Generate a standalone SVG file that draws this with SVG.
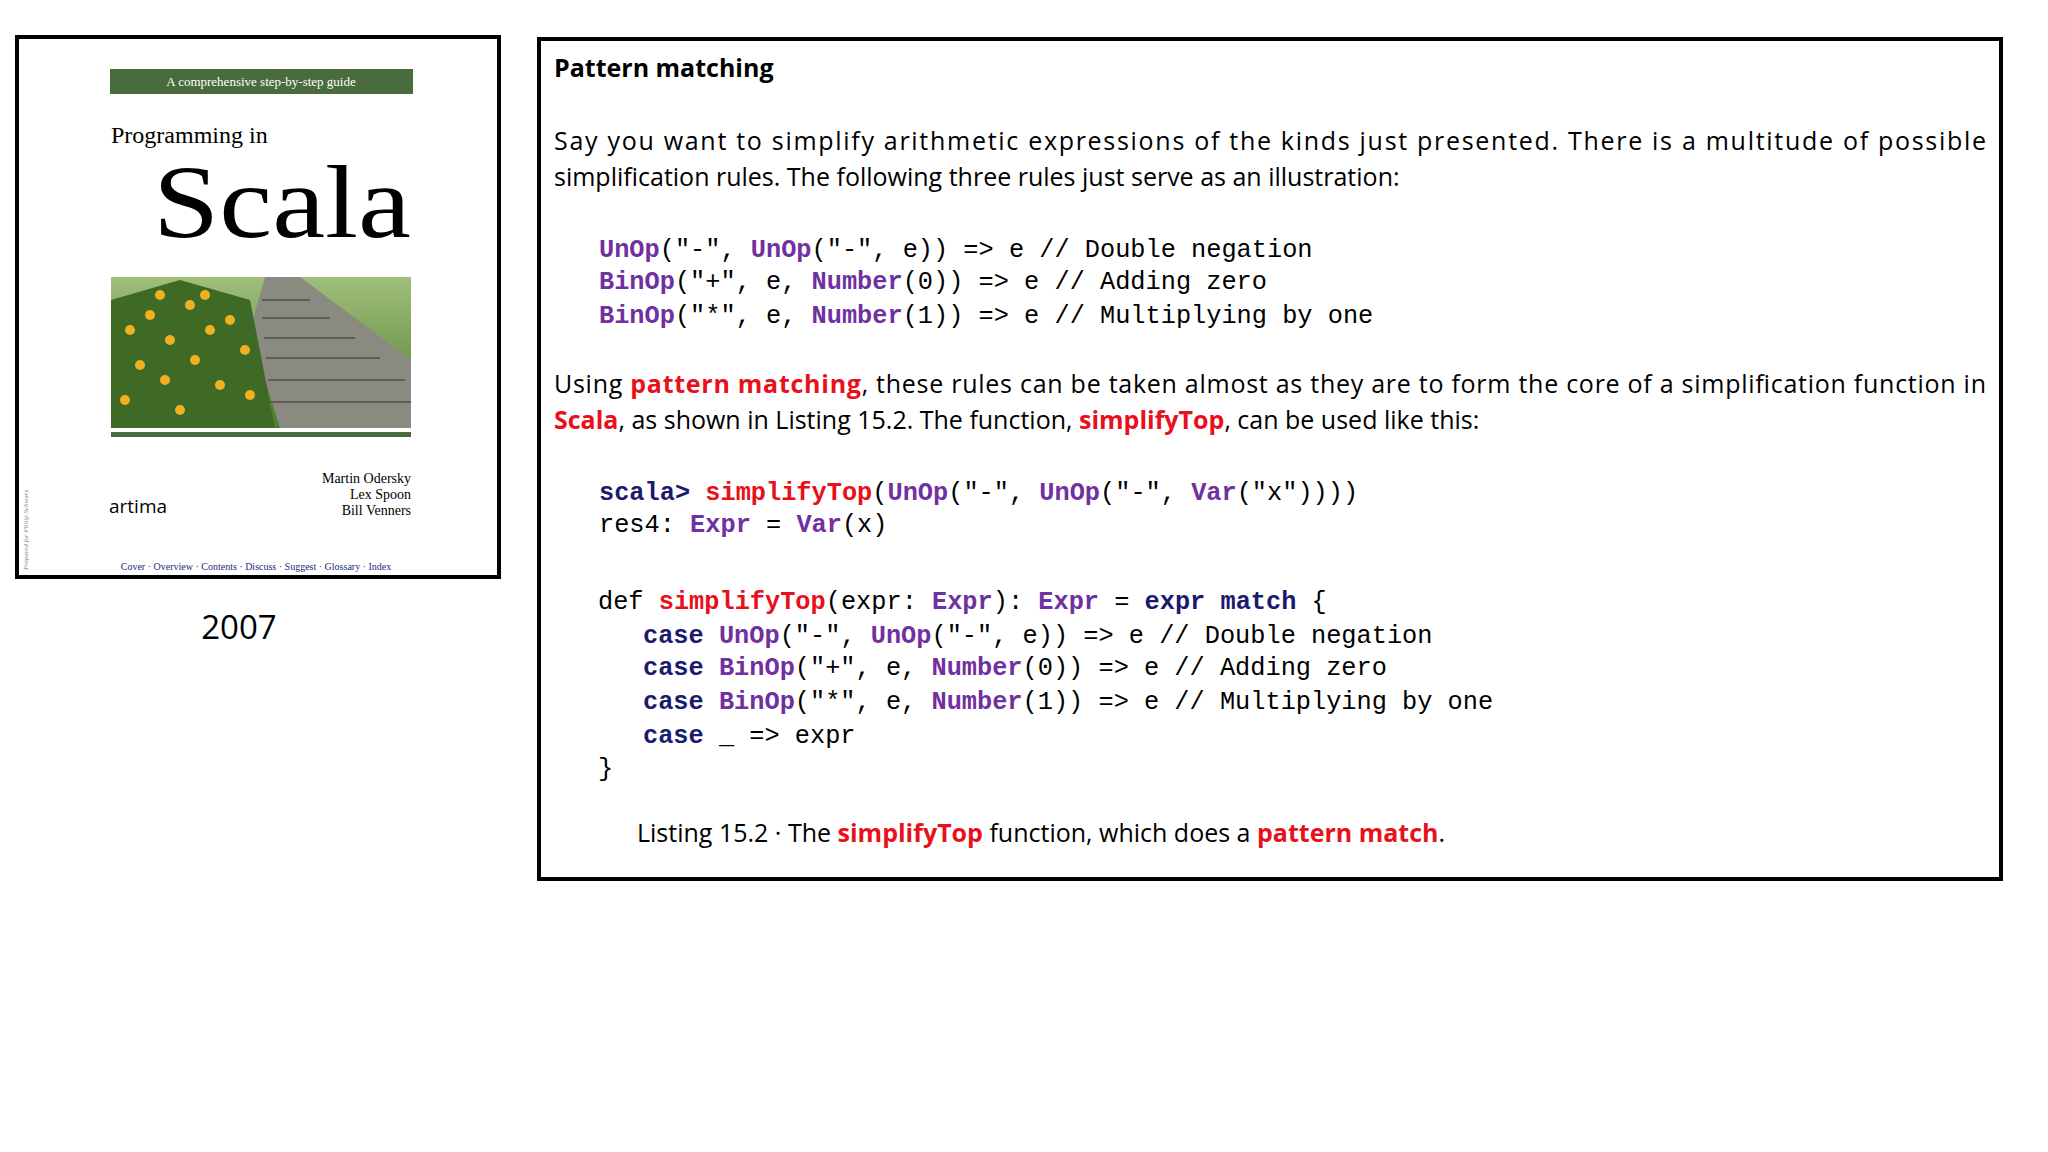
<svg xmlns="http://www.w3.org/2000/svg" width="2048" height="1152" viewBox="0 0 2048 1152">
<defs>
<style>
.t{font-family:"Open Sans","Noto Sans",sans-serif;font-size:25px;fill:#000}
.c{font-family:"Liberation Mono","DejaVu Sans Mono",monospace;font-size:25.3px;fill:#000;white-space:pre}
.p{fill:#7030a0;font-weight:bold}
.r{fill:#e8101a;font-weight:bold}
.k{fill:#1a1a6e;font-weight:bold}
.s{font-family:"Liberation Serif","DejaVu Serif",serif}
</style>
<linearGradient id="sky" x1="0" y1="0" x2="0" y2="1"><stop offset="0" stop-color="#9fbf7a"/><stop offset="1" stop-color="#4f7a2e"/></linearGradient>
</defs>
<rect width="2048" height="1152" fill="#fff"/>
<g id="book">
<rect x="17" y="37" width="482" height="540" fill="#fff" stroke="#000" stroke-width="4"/>
<rect x="110" y="69" width="303" height="25" fill="#4a6b3e"/>
<text x="261" y="86" text-anchor="middle" class="s" font-size="13" fill="#fff">A comprehensive step-by-step guide</text>
<text x="111" y="143" class="s" font-size="24">Programming in</text>
<text x="411" y="237" text-anchor="end" class="s" font-size="104" textLength="258" lengthAdjust="spacingAndGlyphs">Scala</text>
<g id="photo">
<rect x="111" y="277" width="300" height="151" fill="url(#sky)"/>
<polygon points="265,277 300,277 411,360 411,428 280,428 250,330" fill="#8a8a80"/>
<g stroke="#5d5d55" stroke-width="2">
<line x1="262" y1="300" x2="310" y2="300"/><line x1="262" y1="318" x2="330" y2="318"/><line x1="264" y1="338" x2="355" y2="338"/><line x1="266" y1="358" x2="380" y2="358"/><line x1="268" y1="380" x2="405" y2="380"/><line x1="270" y1="402" x2="411" y2="402"/></g>
<polygon points="111,300 180,280 250,300 275,428 111,428" fill="#3f6a25"/>
<g fill="#f0b020">
<circle cx="130" cy="330" r="5"/><circle cx="150" cy="315" r="5"/><circle cx="170" cy="340" r="5"/><circle cx="190" cy="305" r="5"/><circle cx="210" cy="330" r="5"/><circle cx="230" cy="320" r="5"/><circle cx="245" cy="350" r="5"/><circle cx="140" cy="365" r="5"/><circle cx="165" cy="380" r="5"/><circle cx="195" cy="360" r="5"/><circle cx="220" cy="385" r="5"/><circle cx="125" cy="400" r="5"/><circle cx="180" cy="410" r="5"/><circle cx="250" cy="395" r="5"/><circle cx="205" cy="295" r="5"/><circle cx="160" cy="295" r="5"/></g>
</g>
<rect x="111" y="432" width="300" height="5" fill="#4a6b3e"/>
<text class="s" font-size="14" text-anchor="end"><tspan x="411" y="483">Martin Odersky</tspan><tspan x="411" y="499">Lex Spoon</tspan><tspan x="411" y="515">Bill Venners</tspan></text>
<text x="109" y="513" font-family="Open Sans,sans-serif" font-size="19">artima</text>
<text x="256" y="570" text-anchor="middle" class="s" font-size="10" fill="#1a2a80">Cover · Overview · Contents · Discuss · Suggest · Glossary · Index</text>
<text transform="translate(28,570) rotate(-90)" class="s" font-size="7" font-style="italic" fill="#888">Prepared for Philip Schwarz</text>
</g>
<text x="239" y="639" text-anchor="middle" font-family="Open Sans,sans-serif" font-size="33">2007</text>
<g id="panel">
<rect x="539" y="39" width="1462" height="840" fill="#fff" stroke="#000" stroke-width="4"/>
<text x="554" y="77" class="t" font-weight="bold" font-size="30">Pattern matching</text>
<text x="554" y="150" class="t" textLength="1432" lengthAdjust="spacing">Say you want to simplify arithmetic expressions of the kinds just presented. There is a multitude of possible</text>
<text x="554" y="186" class="t">simplification rules. The following three rules just serve as an illustration:</text>
<text class="c" xml:space="preserve"><tspan x="599" y="257"><tspan class="p">UnOp</tspan>("-", <tspan class="p">UnOp</tspan>("-", e)) =&gt; e // Double negation</tspan><tspan x="599" y="289"><tspan class="p">BinOp</tspan>("+", e, <tspan class="p">Number</tspan>(0)) =&gt; e // Adding zero</tspan><tspan x="599" y="323"><tspan class="p">BinOp</tspan>("*", e, <tspan class="p">Number</tspan>(1)) =&gt; e // Multiplying by one</tspan></text>
<text x="554" y="393" class="t" textLength="1432" lengthAdjust="spacing">Using <tspan class="r">pattern matching</tspan>, these rules can be taken almost as they are to form the core of a simplification function in</text>
<text x="554" y="429" class="t"><tspan class="r">Scala</tspan>, as shown in Listing 15.2. The function, <tspan class="r">simplifyTop</tspan>, can be used like this:</text>
<text class="c" xml:space="preserve"><tspan x="599" y="500"><tspan class="k">scala&gt;</tspan> <tspan class="r">simplifyTop</tspan>(<tspan class="p">UnOp</tspan>("-", <tspan class="p">UnOp</tspan>("-", <tspan class="p">Var</tspan>("x"))))</tspan><tspan x="599" y="532">res4: <tspan class="p">Expr</tspan> = <tspan class="p">Var</tspan>(x)</tspan></text>
<text class="c" xml:space="preserve"><tspan x="598" y="609">def <tspan class="r">simplifyTop</tspan>(expr: <tspan class="p">Expr</tspan>): <tspan class="p">Expr</tspan> = <tspan class="k">expr match</tspan> {</tspan><tspan x="643" y="643"><tspan class="k">case</tspan> <tspan class="p">UnOp</tspan>("-", <tspan class="p">UnOp</tspan>("-", e)) =&gt; e // Double negation</tspan><tspan x="643" y="675"><tspan class="k">case</tspan> <tspan class="p">BinOp</tspan>("+", e, <tspan class="p">Number</tspan>(0)) =&gt; e // Adding zero</tspan><tspan x="643" y="709"><tspan class="k">case</tspan> <tspan class="p">BinOp</tspan>("*", e, <tspan class="p">Number</tspan>(1)) =&gt; e // Multiplying by one</tspan><tspan x="643" y="743"><tspan class="k">case</tspan> _ =&gt; expr</tspan><tspan x="598" y="776">}</tspan></text>
<text x="637" y="842" class="t">Listing 15.2 · The <tspan class="r">simplifyTop</tspan> function, which does a <tspan class="r">pattern match</tspan>.</text>
</g>
</svg>
